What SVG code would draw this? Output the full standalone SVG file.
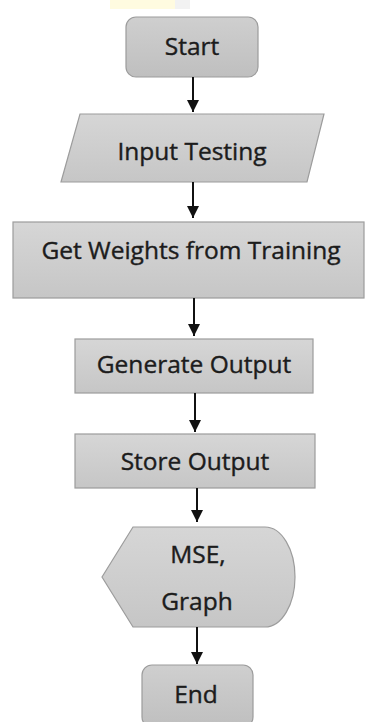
<svg xmlns="http://www.w3.org/2000/svg" width="368" height="722" viewBox="0 0 368 722">
  <defs>
    <linearGradient id="boxFill" x1="0" y1="0" x2="0" y2="1">
      <stop offset="0" stop-color="#d6d6d6"/>
      <stop offset="1" stop-color="#c6c6c6"/>
    </linearGradient>
    <linearGradient id="termFill" x1="0" y1="0" x2="0" y2="1">
      <stop offset="0" stop-color="#cfcfcf"/>
      <stop offset="1" stop-color="#bfbfbf"/>
    </linearGradient>
    <marker id="arrow" viewBox="0 0 12 12" refX="12" refY="6" markerWidth="12" markerHeight="12" markerUnits="userSpaceOnUse" orient="auto">
      <path d="M0,0 L12,6 L0,12 Z" fill="#111"/>
    </marker>
    <style>
      .shape { fill: url(#boxFill); stroke: #9c9c9c; stroke-width: 1.2; }
      .terminal { fill: url(#termFill); stroke: #9c9c9c; stroke-width: 1.2; }
      .label { font-family: "Open Sans", "Liberation Sans", sans-serif; font-size: 24.5px; fill: #1c1c1c; stroke: #1c1c1c; stroke-width: 0.4; text-anchor: middle; }
      .edge { stroke: #111; stroke-width: 2; fill: none; marker-end: url(#arrow); }
    </style>
  </defs>

  <rect width="368" height="722" fill="#ffffff"/>
  <!-- faint band at the top edge -->
  <rect x="110" y="0" width="65" height="9" fill="#fffbe0"/>
  <rect x="175" y="0" width="15" height="9" fill="#f2f2f2"/>

  <g id="start">
    <rect class="terminal" x="126" y="17" width="132" height="60" rx="10"/>
    <text class="label" x="192" y="55">Start</text>
  </g>

  <g id="input-testing">
    <polygon class="shape" points="80,114 324,114 307,182 61,182"/>
    <text class="label" x="192" y="160">Input Testing</text>
  </g>

  <g id="get-weights">
    <rect class="shape" x="13" y="222" width="351" height="76"/>
    <text class="label" x="191" y="259">Get Weights from Training</text>
  </g>

  <g id="generate-output">
    <rect class="shape" x="75" y="339" width="238" height="54"/>
    <text class="label" x="194" y="373">Generate Output</text>
  </g>

  <g id="store-output">
    <rect class="shape" x="75" y="434" width="240" height="54"/>
    <text class="label" x="195" y="470">Store Output</text>
  </g>

  <g id="mse-graph">
    <path class="shape" d="M102,577 L133,527 L265,527 A30,50 0 0 1 265,627 L133,627 Z"/>
    <text class="label" x="198" y="563">MSE,</text>
    <text class="label" x="197" y="610">Graph</text>
  </g>

  <g id="end">
    <rect class="terminal" x="142" y="665" width="111" height="62" rx="10"/>
    <text class="label" x="196" y="703">End</text>
  </g>

  <g id="connectors">
    <line class="edge" x1="193" y1="77" x2="193" y2="112"/>
    <line class="edge" x1="193" y1="182" x2="193" y2="218"/>
    <line class="edge" x1="194" y1="298" x2="194" y2="336"/>
    <line class="edge" x1="195" y1="393" x2="195" y2="432"/>
    <line class="edge" x1="197" y1="488" x2="197" y2="522"/>
    <line class="edge" x1="197" y1="627" x2="197" y2="664"/>
  </g>
</svg>
